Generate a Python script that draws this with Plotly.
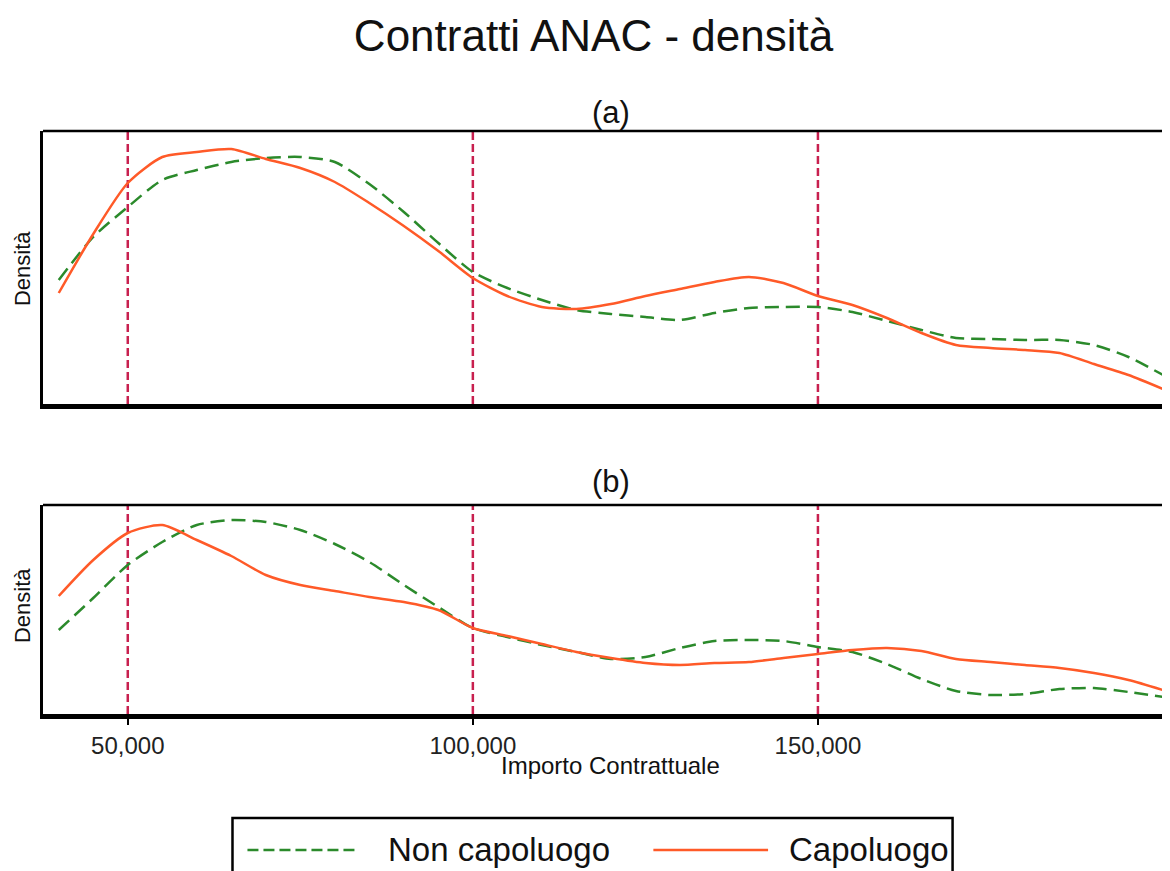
import plotly.graph_objects as go

# ---- data (density values, arbitrary units x1e-6) ----
importo = [40000, 45000, 50000, 55000, 60000, 65000, 70000, 75000, 80000, 85000,
           90000, 95000, 100000, 105000, 110000, 115000, 120000, 125000, 130000,
           135000, 140000, 145000, 150000, 155000, 160000, 165000, 170000, 175000,
           180000, 185000, 190000, 195000, 200000]

a_capoluogo = [5.55, 8.5, 11.05, 12.35, 12.6, 12.75, 12.25, 11.8, 11.1, 10.05, 8.9,
               7.65, 6.3, 5.4, 4.85, 4.75, 5.0, 5.4, 5.75, 6.1, 6.35, 6.05, 5.4,
               4.95, 4.3, 3.55, 2.95, 2.8, 2.7, 2.55, 2.0, 1.45, 0.75]
a_non_capoluogo = [6.2, 8.35, 9.85, 11.2, 11.7, 12.1, 12.3, 12.35, 12.1, 11.0, 9.6,
                   8.05, 6.6, 5.8, 5.2, 4.7, 4.5, 4.35, 4.2, 4.55, 4.8, 4.85, 4.85,
                   4.6, 4.15, 3.7, 3.3, 3.25, 3.2, 3.2, 2.95, 2.35, 1.45]

b_capoluogo = [5.9, 7.7, 9.05, 9.45, 8.7, 7.9, 6.95, 6.45, 6.15, 5.85, 5.6, 5.2,
               4.3, 3.9, 3.5, 3.1, 2.8, 2.55, 2.45, 2.55, 2.6, 2.8, 3.0, 3.2, 3.3,
               3.15, 2.75, 2.6, 2.45, 2.3, 2.05, 1.7, 1.2]
b_non_capoluogo = [4.2, 5.8, 7.45, 8.6, 9.45, 9.7, 9.6, 9.2, 8.5, 7.6, 6.45, 5.35,
                   4.3, 3.85, 3.45, 3.1, 2.75, 2.85, 3.3, 3.65, 3.7, 3.65, 3.35,
                   3.1, 2.5, 1.75, 1.15, 0.95, 1.0, 1.25, 1.3, 1.1, 0.85]

ref_lines = [50000, 100000, 150000]
tick_vals = [50000, 100000, 150000]
tick_text = ["50,000", "100,000", "150,000"]

series_names = ["Non capoluogo", "Capoluogo"]
panel_titles = ["(a)", "(b)"]

# ---- styles ----
GREEN = "#2B8A2B"
ORANGE = "#FF5A28"
CRIMSON = "#C8204F"
FONT = "Liberation Sans, Arial, sans-serif"

OFF = 8  # page body margin in the browser
W, H = 1170 - OFF, 871 - OFF
L, R_EDGE = 43 - OFF, 1170 - OFF
TOP, BOT = 131 - OFF, 714 - OFF


def px_x(p):
    return (p - OFF - L) / (R_EDGE - L)


def px_y(p):
    return (BOT - (p - OFF)) / (BOT - TOP)


fig = go.Figure()

for xa, ya, cap, non in [("x", "y", a_capoluogo, a_non_capoluogo),
                         ("x2", "y2", b_capoluogo, b_non_capoluogo)]:
    fig.add_trace(go.Scatter(x=importo, y=non, name=series_names[0], mode="lines",
                             line=dict(color=GREEN, width=2.5, dash="14px,7px",
                                       shape="spline", smoothing=0.7),
                             xaxis=xa, yaxis=ya, showlegend=False))
    fig.add_trace(go.Scatter(x=importo, y=cap, name=series_names[1], mode="lines",
                             line=dict(color=ORANGE, width=2.5,
                                       shape="spline", smoothing=0.7),
                             xaxis=xa, yaxis=ya, showlegend=False))

xrange = [37717, 200578]
common_x = dict(range=xrange, showgrid=False, zeroline=False, showline=True,
                linecolor="black", linewidth=5)
common_y = dict(showgrid=False, zeroline=False, showline=True, linecolor="black",
                linewidth=2.5, mirror=True, showticklabels=False, ticks="")

fig.update_layout(
    width=W, height=H,
    margin=dict(l=L, r=W - R_EDGE, t=TOP, b=H - BOT),
    paper_bgcolor="white", plot_bgcolor="white",
    font=dict(family=FONT, color="#111111"),
    title=dict(text="Contratti ANAC - densità", x=px_x(595), xref="paper",
               xanchor="center", y=1 - (36 - OFF) / H, yref="container",
               yanchor="middle",
               font=dict(size=44, family=FONT, color="#111111")),
    xaxis=dict(domain=[0, 1], anchor="y", showticklabels=False, ticks="", **common_x),
    yaxis=dict(domain=[px_y(404), 1], anchor="x", range=[0, 13.65], **common_y),
    xaxis2=dict(domain=[0, 1], anchor="y2", tickvals=tick_vals, ticktext=tick_text,
                ticks="outside", ticklen=6, tickwidth=2, tickcolor="black",
                tickfont=dict(size=24, family=FONT, color="#222222"), **common_x),
    yaxis2=dict(domain=[0, px_y(505)], anchor="x2", range=[0, 10.45], **common_y),
    showlegend=False,
)

shapes = []
# top borders
for yref in ["y domain", "y2 domain"]:
    shapes.append(dict(type="line", xref="paper", yref=yref, x0=0, x1=1, y0=1, y1=1,
                       line=dict(color="black", width=2.5)))
# reference lines
for xr, yr in [("x", "y domain"), ("x2", "y2 domain")]:
    for v in ref_lines:
        shapes.append(dict(type="line", xref=xr, yref=yr, x0=v, x1=v, y0=0, y1=1,
                           line=dict(color=CRIMSON, width=2.5, dash="8px,4px"),
                           layer="below"))
# legend box and samples
shapes.append(dict(type="rect", xref="paper", yref="paper",
                   x0=px_x(233), x1=px_x(955), y0=px_y(818), y1=px_y(905),
                   line=dict(color="black", width=2.5), fillcolor="rgba(0,0,0,0)"))
shapes.append(dict(type="line", xref="paper", yref="paper",
                   x0=px_x(248), x1=px_x(360), y0=px_y(850), y1=px_y(850),
                   line=dict(color=GREEN, width=2.5, dash="11px,5px")))
shapes.append(dict(type="line", xref="paper", yref="paper",
                   x0=px_x(655), x1=px_x(770), y0=px_y(850), y1=px_y(850),
                   line=dict(color=ORANGE, width=2.5)))
fig.update_layout(shapes=shapes)

ann = [
    dict(text=panel_titles[0], x=px_x(613), y=px_y(112), font=dict(size=31)),
    dict(text=panel_titles[1], x=px_x(613), y=px_y(482), font=dict(size=31)),
    dict(text="Importo Contrattuale", x=px_x(612), y=px_y(765), font=dict(size=24)),
    dict(text="Densità", x=px_x(22), y=px_y(269), textangle=-90, font=dict(size=22)),
    dict(text="Densità", x=px_x(22), y=px_y(606), textangle=-90, font=dict(size=22)),
    dict(text=series_names[0], x=px_x(387), y=px_y(849), xanchor="left",
         font=dict(size=33)),
    dict(text=series_names[1], x=px_x(789), y=px_y(849), xanchor="left",
         font=dict(size=33)),
]
for a in ann:
    a.setdefault("xanchor", "center")
    a.update(xref="paper", yref="paper", yanchor="middle", showarrow=False)
    a["font"].update(family=FONT, color="#111111")
fig.update_layout(annotations=ann)

fig.write_html("out.html")
